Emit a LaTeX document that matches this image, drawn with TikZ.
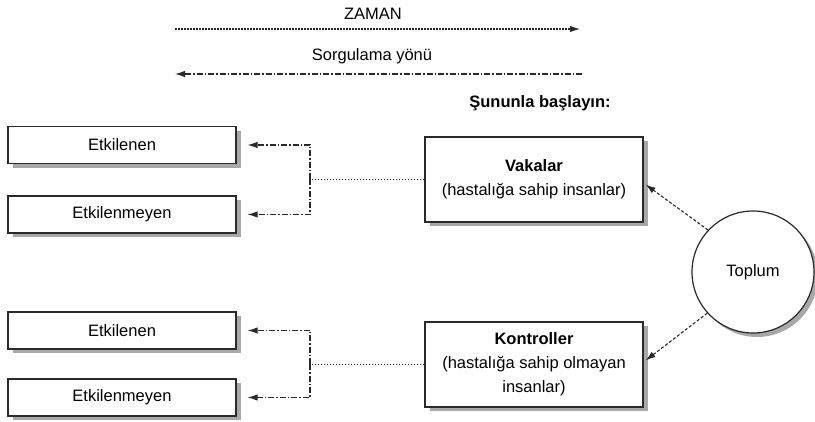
\documentclass[tikz,border=0pt]{standalone}
\usepackage{fontspec}
\setmainfont{Liberation Sans}
\usetikzlibrary{arrows.meta,calc}
\definecolor{ln}{HTML}{2A2A2A}
\definecolor{shd}{HTML}{A8A8A8}
\tikzset{
  lbl/.style={font=\fontsize{16.5}{23}\selectfont, text=black, inner sep=0pt},
  smallbox/.style={draw=ln, line width=1.2pt, fill=white, rectangle, minimum width=228pt, minimum height=37pt, inner sep=0pt, font=\fontsize{16.5}{23}\selectfont},
  bigbox/.style={draw=ln, line width=1.2pt, fill=white, rectangle, minimum width=218pt, minimum height=85pt, inner sep=0pt, align=center, font=\fontsize{16.5}{24}\selectfont},
  popcircle/.style={draw=ln, line width=1.2pt, fill=white, circle, minimum size=122pt, inner sep=0pt, font=\fontsize{16.5}{23}\selectfont},
  shadowfill/.style={fill=shd, draw=none},
  tip/.style={-{Latex[length=10pt,width=6.5pt]}},
  dotline/.style={draw=ln, line width=1.1pt, dash pattern=on 1.5pt off 1.5pt},
  dashdotline/.style={draw=ln, line width=1.1pt, dash pattern=on 6pt off 2pt on 1.5pt off 2pt},
  shortdash/.style={draw=ln, line width=1.1pt, dash pattern=on 3pt off 2pt},
}
\begin{document}
\begin{tikzpicture}[x=1pt,y=-1pt]
\useasboundingbox (0,0) rectangle (815,422);

% shadows, drawn first so the shapes cover them
\coordinate (e1c) at (122,145);
\coordinate (m1c) at (122,214.5);
\coordinate (e2c) at (122,330.5);
\coordinate (m2c) at (122,397.5);
\coordinate (vakc) at (534,179.5);
\coordinate (konc) at (534,364.5);
\coordinate (topc) at (753,272);
\foreach \c in {e1c,m1c,e2c,m2c}{
  \fill[shadowfill] ($(\c)+(-109.5,-14)$) rectangle ($(\c)+(118.5,23)$);
}
\foreach \c in {vakc,konc}{
  \fill[shadowfill] ($(\c)+(-104.5,-38)$) rectangle ($(\c)+(113.5,47)$);
}
\fill[shadowfill] ($(topc)+(4,4)$) circle[radius=61pt];

% time arrows
\node[lbl] (zaman) at (373,14) {ZAMAN};
\coordinate (z1) at (175,29);
\coordinate (z2) at (580,29);
\draw[dotline,tip] (z1) -- (z2);
\node[lbl] (sorg) at (372,56) {Sorgulama yönü};
\coordinate (s1) at (582,74);
\coordinate (s2) at (175,74);
\draw[dashdotline,tip] (s1) -- (s2);

\node[lbl,font=\bfseries\fontsize{16.5}{23}\selectfont] (start) at (540,103) {Şununla başlayın:};

% left boxes
\node[smallbox] (e1) at (e1c) {Etkilenen};
\node[smallbox] (m1) at (m1c) {Etkilenmeyen};
\node[smallbox] (e2) at (e2c) {Etkilenen};
\node[smallbox] (m2) at (m2c) {Etkilenmeyen};

% center boxes
\node[bigbox] (vak) at (vakc) {\textbf{Vakalar}\\(hastalığa sahip insanlar)};
\node[bigbox] (kon) at (konc) {\textbf{Kontroller}\\(hastalığa sahip olmayan\\insanlar)};

% population
\node[popcircle] (top) at (topc) {Toplum};

% junctions
\coordinate (j1) at (310,179.5);
\coordinate (j2) at (310,364.5);

\draw[dotline] (vak.west) -- (j1);
\draw[dashdotline,tip,shorten >=11pt] (j1) |- (e1.east);
\draw[dashdotline,tip,shorten >=11pt] (j1) |- (m1.east);

\draw[dotline] (kon.west) -- (j2);
\draw[dashdotline,tip,shorten >=11pt] (j2) |- (e2.east);
\draw[dashdotline,tip,shorten >=11pt] (j2) |- (m2.east);

% from population
\draw[shortdash,tip] (top.137) -- ([yshift=-5pt,xshift=2pt]vak.east);
\draw[shortdash,tip] (top.222) -- ([yshift=4pt,xshift=2pt]kon.east);
\end{tikzpicture}
\end{document}
